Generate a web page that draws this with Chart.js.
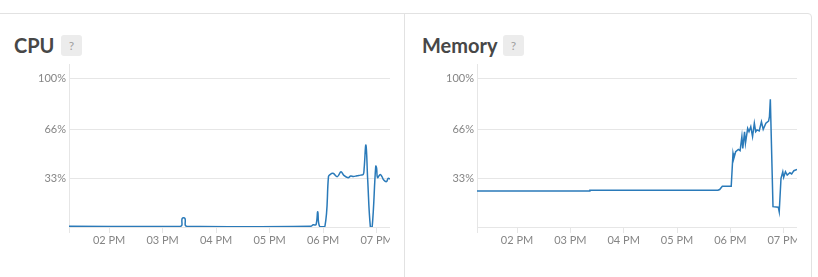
<!DOCTYPE html>
<html>
<head>
<meta charset="utf-8">
<script src="https://cdn.jsdelivr.net/npm/chart.js@4/dist/chart.umd.min.js"></script>
<style>
  html, body { margin: 0; padding: 0; background: #fff; }
  body { width: 818px; height: 277px; position: relative; overflow: hidden; font-family: Lato, 'Open Sans', sans-serif; }
  .panel-box {
    position: absolute; left: -6px; top: 13px; width: 818px; height: 300px;
    border: 1px solid #e2e2e2; border-radius: 4px; box-sizing: border-box;
  }
  .divider { position: absolute; left: 404px; top: 13px; width: 1px; height: 270px; background: #e2e2e2; }
  .title {
    position: absolute; top: 35px; height: 20px; line-height: 20px;
    font-size: 20px; font-weight: 700; color: #474747; white-space: nowrap;
  }
  .help {
    position: absolute; top: 35px; width: 21px; height: 21px; border-radius: 3px;
    background: #ececec; color: #a0a0a0; font-size: 12px; line-height: 21px; text-align: center;
  }
  canvas { position: absolute; }
</style>
</head>
<body>
<div class="panel-box"></div>
<div class="divider"></div>

<div class="title" style="left:14px">CPU</div>
<div class="help" style="left:61px">?</div>
<canvas id="cpu-chart" style="left:20px; top:60px;"></canvas>

<div class="title" style="left:422px">Memory</div>
<div class="help" style="left:503px">?</div>
<canvas id="memory-chart" style="left:428px; top:60px;"></canvas>

<script>
// time window shown (minutes since midnight)
const X_MIN = 13 * 60 + 15;
const X_MAX = 19 * 60 + 15;
const HOUR_TICKS = [14, 15, 16, 17, 18, 19];
const Y_TICKS = [0, 33, 66, 100];
const Y_MAX = 110;

const cpuTimes = [
  '13:15', '15:20', '15:22', '15:25', '15:27', '17:46', '17:49', '17:52', '17:54', '17:56',
  '18:02', '18:06', '18:07', '18:11', '18:16', '18:20', '18:23', '18:28', '18:31', '18:34',
  '18:38', '18:42', '18:45', '18:46', '18:48', '18:50', '18:53', '18:55', '18:59', '19:00',
  '19:01', '19:04', '19:06', '19:08', '19:11', '19:13', '19:15',
];
const cpuValues = [
  0.5, 0.5, 5.8, 5.8, 0.5, 0.5, 1.5, 1.5, 10.3, 0.5,
  0.5, 34, 35, 36.2, 34, 37.3, 35, 33.3, 34.4, 34,
  34.6, 35, 35.5, 39.6, 55.3, 31.7, 0, 0, 41, 39.6,
  33.3, 35.5, 34, 31.7, 30.6, 32.9, 32.4,
];

const memoryTimes = [
  '13:15', '15:21', '15:22', '17:46', '17:48', '17:51', '18:01', '18:03', '18:04', '18:06',
  '18:09', '18:11', '18:13', '18:14', '18:16', '18:17', '18:19:30', '18:21', '18:23', '18:25',
  '18:27', '18:28:30', '18:30', '18:32:30', '18:35', '18:37', '18:40', '18:43', '18:44', '18:45',
  '18:48', '18:54', '18:55', '18:57', '18:59', '19:00', '19:02', '19:04', '19:07', '19:09',
  '19:11:30', '19:15',
];
const memoryValues = [
  24.3, 24.3, 24.8, 24.8, 25.3, 27.5, 27.5, 49.7, 46.4, 50.8,
  52.4, 51.5, 61, 53, 64.3, 56.5, 66.6, 64.3, 67.7, 61,
  70, 64.3, 65.5, 64.8, 71, 65.9, 70, 71.5, 74.4, 86.2,
  13.7, 13.3, 10.3, 32.9, 37.3, 33.5, 37.3, 35.1, 36.6, 35.8,
  38, 38.9,
];

const LINE_COLOR = '#2a7ab9';
const GRID_COLOR = '#e6e6e6';
const TICK_COLOR = '#858585';

const toMinutes = (t) => {
  const [h, m, s] = t.split(':').map(Number);
  return h * 60 + m + (s || 0) / 60;
};

const hourLabel = (minutes) => {
  const h = Math.round(minutes / 60);
  const h12 = h % 12 === 0 ? 12 : h % 12;
  return `${String(h12).padStart(2, '0')} ${h >= 12 ? 'PM' : 'AM'}`;
};

function buildConfig(times, values, tension) {
  return {
    type: 'line',
    data: {
      datasets: [{
        data: times.map((t, i) => ({ x: toMinutes(t), y: values[i] })),
        borderColor: LINE_COLOR,
        borderWidth: 1.5,
        pointRadius: 0,
        tension,
        fill: false,
      }],
    },
    options: {
      responsive: false,
      animation: false,
      devicePixelRatio: 1,
      layout: { autoPadding: false, padding: { top: 4, left: 0, right: 0, bottom: 0 } },
      plugins: { legend: { display: false }, tooltip: { enabled: false } },
      scales: {
        x: {
          type: 'linear',
          min: X_MIN,
          max: X_MAX,
          afterBuildTicks: (scale) => {
            scale.ticks = [X_MIN, ...HOUR_TICKS.map((h) => h * 60)].map((value) => ({ value }));
          },
          // the last label runs off the canvas edge, like the original
          afterFit: (scale) => {
            scale.height = 20;
            scale.paddingLeft = 0;
            scale.paddingRight = 0;
          },
          grid: { drawOnChartArea: false, drawTicks: true, tickLength: 6, color: GRID_COLOR },
          border: { display: true, color: GRID_COLOR },
          ticks: {
            autoSkip: false,
            maxRotation: 0,
            padding: 1,
            color: TICK_COLOR,
            font: { family: 'Lato', size: 11 },
            callback: (value) => (value === X_MIN ? '' : hourLabel(value)),
          },
        },
        y: {
          min: 0,
          max: Y_MAX,
          afterBuildTicks: (scale) => {
            scale.ticks = Y_TICKS.map((value) => ({ value }));
          },
          afterFit: (scale) => {
            scale.width = 49;
            scale.paddingTop = 0;
            scale.paddingBottom = 0;
          },
          grid: { drawTicks: false, color: GRID_COLOR },
          border: { display: true, color: GRID_COLOR },
          ticks: {
            padding: 3,
            color: TICK_COLOR,
            font: { family: 'Lato', size: 11 },
            callback: (value) => (value === 0 ? '' : `${value}%`),
          },
        },
      },
    },
  };
}

function makeChart(id, width, height, times, values, tension) {
  const canvas = document.getElementById(id);
  canvas.width = width;
  canvas.height = height;
  canvas.style.width = width + 'px';
  canvas.style.height = height + 'px';
  return new Chart(canvas, buildConfig(times, values, tension));
}

makeChart('cpu-chart', 370, 187, cpuTimes, cpuValues, 0.4);
makeChart('memory-chart', 369, 187, memoryTimes, memoryValues, 0);
</script>
</body>
</html>
